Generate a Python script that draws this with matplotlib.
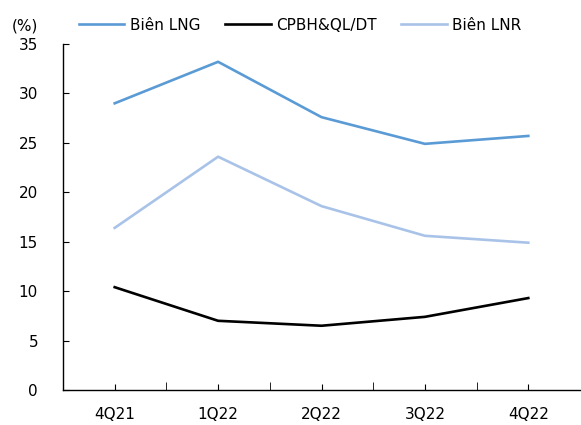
import matplotlib
matplotlib.use("Agg")
import matplotlib.pyplot as plt
from matplotlib.ticker import MultipleLocator, FixedLocator

categories = ["4Q21", "1Q22", "2Q22", "3Q22", "4Q22"]
bien_lng = [29.0, 33.2, 27.6, 24.9, 25.7]
cpbh_ql_dt = [10.4, 7.0, 6.5, 7.4, 9.3]
bien_lnr = [16.4, 23.6, 18.6, 15.6, 14.9]

plt.rcParams['font.family'] = ['DejaVu Sans']
fig = plt.figure(figsize=(5.81, 4.25), dpi=100)
ax = fig.add_axes([63/581, 1-390/425, 517/581, (390-44)/425])

x = list(range(len(categories)))
l1, = ax.plot(x, bien_lng, color="#5B9BD5", lw=1.9, label="Biên LNG")
l2, = ax.plot(x, cpbh_ql_dt, color="#000000", lw=1.9, label="CPBH&QL/DT")
l3, = ax.plot(x, bien_lnr, color="#A9C3E8", lw=1.9, label="Biên LNR")

ax.set_xlim(-0.5, len(categories) - 0.5)
ax.set_ylim(0, 35)
ax.yaxis.set_major_locator(MultipleLocator(5))
ax.set_xticks(x)
ax.set_xticklabels(categories)
ax.xaxis.set_minor_locator(FixedLocator([i + 0.5 for i in range(len(categories) - 1)]))
ax.tick_params(axis='both', which='both', direction='in', labelsize=11, color='black')
ax.tick_params(axis='x', which='major', length=4, pad=12)
ax.tick_params(axis='x', which='minor', length=6)
ax.tick_params(axis='y', length=4, pad=18)
for s in ['top', 'right']:
    ax.spines[s].set_visible(False)
for s in ['left', 'bottom']:
    ax.spines[s].set_linewidth(1.0)

fig.text(12/581, 1-26/425, "(%)", fontsize=11, va='center', ha='left')
fig.legend(handles=[l1, l2, l3], loc='center', bbox_to_anchor=(300/581, 1-25/425),
           ncol=3, frameon=False, fontsize=11, handlelength=3.0, handletextpad=0.35,
           columnspacing=1.6)

fig.savefig("out.png", dpi=100)
